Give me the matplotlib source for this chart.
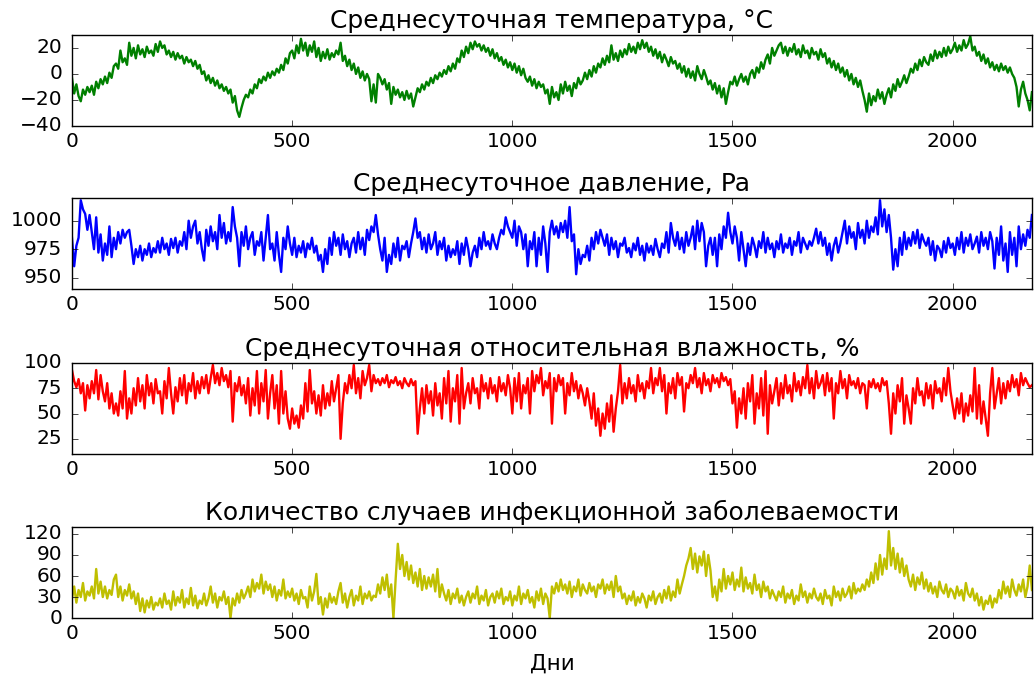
import numpy as np
import matplotlib
matplotlib.use('Agg')
import matplotlib.pyplot as plt

plt.style.use('classic')
matplotlib.rcParams.update({'font.size': 14.5, 'font.family': 'DejaVu Sans',
                            'axes.formatter.useoffset': False,
                            'figure.facecolor': 'white', 'savefig.facecolor': 'white'})

# values read every 5 days off the reference picture
temperature = [
    -3, -15, -8, -17, -21, -12, -16, -10, -14, -9, -16, -6, -11, -4, -8, -2, -7, 1, -3, 6,
    8, 4, 18, 9, 12, 7, 24, 14, 20, 12, 22, 15, 19, 13, 21, 16, 18, 14, 23, 17,
    25, 20, 22, 15, 18, 13, 17, 11, 16, 12, 14, 8, 13, 9, 11, 6, 10, 4, 7, 0,
    2, -5, -1, -7, -3, -9, -5, -11, -8, -13, -10, -15, -12, -22, -17, -28, -33, -26, -20, -16,
    -18, -12, -15, -8, -11, -4, -7, -2, -5, 1, -3, 2, -1, 4, 1, 7, 3, 12, 8, 16,
    18, 12, 22, 16, 27, 18, 24, 14, 22, 17, 25, 13, 20, 10, 17, 12, 19, 11, 16, 13,
    18, 15, 24, 10, 14, 6, 11, 3, 8, 0, 5, -3, 2, -5, 0, -4, -21, -8, -22, 0,
    -3, -8, -4, -12, -7, -23, -10, -16, -12, -18, -14, -20, -13, -19, -15, -25, -18, -11, -14, -8,
    -12, -6, -9, -3, -7, -1, -4, 1, -2, 3, 0, 6, 2, 8, 4, 12, 9, 18, 13, 21,
    16, 24, 19, 25, 21, 23, 18, 22, 17, 20, 14, 19, 12, 16, 10, 13, 7, 11, 5, 9,
    3, 8, 1, 6, -1, 4, -3, -6, -2, -9, -4, -11, -6, -10, -8, -15, -12, -23, -10, -18,
    -14, -20, -8, -15, -6, -13, -9, -17, -7, -11, -3, -8, -5, 1, -4, 3, -2, 6, 1, 8,
    5, 12, 7, 14, 9, 22, 11, 16, 10, 18, 13, 19, 15, 23, 17, 21, 16, 24, 19, 26,
    20, 24, 17, 21, 14, 19, 12, 17, 9, 15, 11, 6, 13, 8, 10, 4, 8, 1, 6, -2,
    4, -3, 2, -5, 6, 0, -4, 3, -2, -8, -5, -12, -7, -15, -9, -18, -11, -23, -14, -6,
    -8, -2, -9, -4, 0, -6, -2, -8, 0, 3, -3, 5, 1, 9, 4, 11, 15, 8, 20, 14,
    18, 22, 24, 16, 21, 14, 20, 17, 23, 15, 19, 13, 22, 16, 18, 12, 20, 15, 17, 11,
    19, 13, 16, 8, 12, 5, 10, 3, 8, 1, 5, -2, 3, -5, 0, -8, -3, -10, -5, -13,
    -20, -29, -15, -24, -17, -21, -12, -19, -14, -23, -16, -11, -18, -8, -13, -4, -10, -6, -1, -7,
    -2, 4, 1, 8, 3, 11, 6, 13, 9, 7, 15, 10, 18, 12, 17, 13, 20, 14, 21, 16,
    19, 24, 17, 22, 18, 26, 20, 23, 29, 18, 21, 14, 17, 10, 15, 8, 12, 5, 9, 3,
    7, 2, 8, 3, 6, 1, 5, 0, -3, -10, -25, -12, -6, -15, -20, -28, -14,
]

pressure = [
    985, 960, 978, 985, 1018, 1010, 1006, 992, 1005, 990, 975, 1003, 972, 988, 965, 980, 970, 995, 968, 985,
    975, 990, 980, 992, 985, 990, 992, 978, 962, 975, 968, 978, 965, 975, 970, 980, 968, 976, 972, 982,
    972, 985, 975, 980, 970, 984, 976, 985, 972, 982, 978, 990, 975, 1000, 985, 995, 1000, 980, 990, 975,
    965, 992, 978, 995, 982, 990, 975, 1005, 985, 998, 980, 990, 982, 1012, 995, 985, 960, 990, 978, 995,
    975, 985, 990, 970, 982, 978, 990, 965, 985, 1005, 975, 980, 965, 990, 970, 955, 985, 975, 995, 980,
    970, 985, 968, 978, 972, 982, 968, 980, 975, 985, 972, 978, 965, 970, 955, 975, 962, 985, 970, 990,
    978, 985, 970, 988, 975, 982, 968, 980, 985, 972, 990, 975, 985, 970, 992, 983, 995, 990, 1005, 988,
    975, 965, 985, 955, 970, 962, 980, 968, 985, 965, 978, 975, 982, 968, 980, 990, 1002, 985, 990, 975,
    985, 972, 988, 975, 980, 990, 970, 982, 975, 985, 965, 978, 968, 975, 970, 982, 962, 980, 970, 985,
    975, 960, 972, 978, 968, 985, 975, 990, 978, 982, 975, 988, 980, 975, 985, 992, 988, 1003, 995, 990,
    985, 1000, 978, 995, 990, 975, 988, 960, 982, 975, 990, 960, 985, 970, 995, 980, 955, 990, 1000, 988,
    995, 985, 998, 990, 1000, 985, 1012, 982, 988, 953, 975, 962, 970, 968, 978, 965, 985, 975, 990, 980,
    992, 985, 978, 988, 970, 985, 975, 982, 968, 980, 978, 985, 972, 976, 968, 980, 974, 985, 970, 978,
    965, 980, 972, 978, 970, 984, 975, 968, 980, 976, 990, 972, 998, 985, 978, 990, 975, 985, 972, 990,
    978, 985, 995, 975, 1000, 982, 998, 990, 960, 978, 985, 970, 985, 960, 988, 975, 995, 985, 1007, 990,
    980, 995, 985, 965, 990, 975, 960, 980, 970, 985, 978, 968, 982, 976, 990, 972, 985, 975, 980, 968,
    982, 975, 988, 972, 980, 976, 985, 970, 982, 978, 990, 972, 985, 980, 975, 982, 978, 985, 993, 980,
    990, 978, 985, 970, 980, 965, 978, 985, 972, 980, 990, 1000, 980, 995, 985, 990, 975, 998, 985, 992,
    980, 1000, 985, 995, 990, 1003, 988, 1018, 995, 1010, 990, 1005, 985, 957, 975, 960, 985, 970, 990, 975,
    985, 978, 990, 980, 992, 976, 988, 982, 978, 985, 970, 982, 965, 978, 975, 968, 982, 972, 985, 976,
    980, 970, 985, 975, 990, 972, 985, 978, 988, 975, 980, 986, 972, 990, 978, 985, 975, 990, 982, 958,
    985, 970, 995, 965, 980, 955, 990, 970, 985, 960, 995, 975, 988, 978, 992, 985, 1005,
]

humidity = [
    93, 82, 76, 84, 70, 80, 53, 78, 65, 82, 70, 93, 64, 88, 72, 62, 80, 55, 70, 50,
    60, 48, 72, 55, 92, 45, 65, 50, 75, 58, 85, 62, 78, 55, 88, 68, 80, 60, 84, 70,
    72, 50, 82, 65, 95, 70, 50, 76, 62, 85, 68, 88, 60, 80, 72, 90, 65, 82, 70, 86,
    75, 88, 70, 85, 98, 80, 90, 78, 95, 82, 88, 76, 92, 42, 80, 72, 86, 68, 78, 60,
    85, 48, 75, 58, 92, 50, 80, 62, 93, 45, 70, 88, 55, 78, 40, 92, 50, 72, 45, 35,
    55, 40, 48, 36, 58, 45, 80, 52, 93, 60, 72, 50, 68, 48, 78, 55, 70, 58, 82, 62,
    75, 88, 25, 60, 80, 70, 88, 75, 98, 70, 85, 65, 92, 78, 85, 98, 72, 88, 80, 84,
    78, 85, 80, 88, 76, 83, 80, 86, 78, 82, 75, 85, 80, 77, 84, 78, 82, 30, 55, 75,
    50, 78, 60, 72, 48, 80, 58, 70, 45, 85, 60, 92, 42, 75, 62, 88, 40, 95, 55, 70,
    80, 60, 85, 70, 75, 55, 88, 72, 80, 65, 85, 70, 78, 62, 86, 72, 80, 68, 88, 75,
    50, 85, 62, 90, 55, 78, 70, 85, 50, 92, 72, 88, 80, 95, 68, 82, 75, 90, 40, 85,
    72, 88, 78, 85, 50, 80, 68, 90, 72, 82, 65, 78, 70, 58, 75, 62, 45, 70, 38, 55,
    28, 50, 35, 60, 42, 68, 32, 55, 72, 98, 60, 80, 65, 85, 70, 78, 62, 88, 72, 80,
    65, 82, 75, 95, 70, 85, 78, 95, 72, 88, 50, 80, 70, 85, 65, 90, 78, 86, 52, 80,
    75, 88, 80, 95, 76, 85, 70, 90, 78, 84, 72, 88, 80, 85, 76, 90, 82, 86, 78, 84,
    60, 72, 36, 65, 50, 75, 45, 80, 62, 88, 40, 70, 55, 85, 48, 92, 30, 78, 60, 72,
    85, 58, 80, 65, 88, 70, 78, 62, 90, 72, 82, 68, 86, 75, 98, 70, 85, 65, 92, 75,
    80, 88, 68, 90, 72, 85, 45, 80, 70, 92, 75, 84, 65, 88, 78, 82, 75, 85, 70, 80,
    78, 55, 82, 76, 84, 75, 80, 72, 85, 78, 82, 60, 30, 70, 50, 78, 62, 85, 40, 68,
    55, 40, 75, 60, 85, 68, 72, 58, 80, 65, 78, 55, 82, 70, 75, 62, 85, 68, 95, 72,
    58, 45, 65, 50, 70, 42, 60, 48, 68, 52, 95, 45, 78, 40, 62, 45, 28, 70, 95, 55,
    70, 85, 60, 80, 65, 82, 72, 88, 76, 84, 68, 90, 78, 85, 80, 76, 78,
]

cases = [
    28, 45, 22, 40, 30, 50, 25, 38, 32, 45, 28, 70, 35, 52, 30, 45, 28, 40, 33, 55,
    62, 30, 45, 25, 40, 32, 48, 28, 38, 20, 35, 10, 28, 8, 25, 15, 30, 12, 22, 18,
    28, 15, 35, 20, 25, 12, 38, 18, 30, 22, 40, 15, 28, 20, 43, 18, 32, 14, 25, 20,
    35, 18, 28, 45, 22, 35, 15, 30, 25, 38, 20, 30, 0, 28, 18, 35, 22, 40, 28, 35,
    45, 30, 55, 38, 50, 42, 62, 35, 52, 40, 48, 30, 45, 25, 40, 32, 55, 28, 38, 30,
    42, 25, 35, 20, 40, 28, 30, 15, 45, 25, 38, 63, 20, 30, 5, 28, 15, 35, 22, 30,
    20, 38, 50, 22, 35, 15, 30, 40, 18, 32, 25, 45, 20, 35, 28, 38, 25, 32, 30, 48,
    35, 58, 40, 62, 30, 48, 0, 55, 106, 70, 90, 60, 80, 55, 75, 50, 65, 45, 70, 40,
    60, 42, 58, 45, 62, 38, 70, 30, 48, 35, 25, 40, 20, 35, 28, 42, 22, 32, 18, 30,
    38, 22, 35, 28, 45, 20, 32, 25, 40, 18, 30, 35, 22, 38, 28, 42, 20, 30, 25, 38,
    18, 32, 25, 45, 20, 35, 28, 40, 22, 30, 15, 38, 25, 42, 20, 35, 28, 0, 45, 35,
    50, 38, 55, 40, 48, 35, 52, 30, 45, 38, 55, 32, 48, 40, 35, 50, 38, 45, 30, 48,
    42, 55, 35, 48, 40, 52, 30, 60, 38, 45, 28, 35, 20, 32, 25, 38, 18, 30, 22, 35,
    28, 15, 32, 25, 38, 20, 30, 35, 22, 40, 28, 45, 25, 38, 30, 55, 35, 48, 60, 75,
    85, 100, 70, 92, 65, 88, 75, 95, 60, 90, 68, 30, 45, 25, 55, 38, 70, 42, 60, 48,
    65, 40, 55, 45, 72, 38, 58, 42, 50, 35, 62, 40, 48, 30, 52, 38, 45, 28, 40, 32,
    25, 38, 30, 45, 22, 35, 28, 40, 20, 32, 25, 48, 30, 38, 22, 35, 28, 42, 30, 25,
    35, 20, 40, 28, 32, 18, 45, 30, 38, 25, 42, 30, 35, 45, 28, 50, 35, 42, 38, 48,
    40, 55, 45, 65, 50, 78, 55, 90, 62, 85, 70, 124, 75, 100, 70, 92, 65, 85, 60, 75,
    55, 45, 62, 40, 58, 48, 65, 42, 55, 38, 50, 35, 45, 30, 52, 40, 35, 48, 30, 42,
    38, 28, 45, 32, 40, 25, 50, 35, 30, 42, 25, 35, 18, 30, 12, 25, 20, 32, 15, 28,
    22, 40, 28, 52, 35, 45, 30, 55, 40, 32, 48, 38, 55, 30, 45, 75, 40,
]

titles = ['Среднесуточная температура, °C',
          'Среднесуточное давление, Pa',
          'Среднесуточная относительная влажность, %',
          'Количество случаев инфекционной заболеваемости']
colors = ['g', 'b', 'r', 'y']
ylims = [(-40, 30), (940, 1020), (10, 100), (0, 130)]
yticks = [[-40, -20, 0, 20], [950, 975, 1000], [25, 50, 75, 100], [0, 30, 60, 90, 120]]
bottoms = [0.8139, 0.5731, 0.3294, 0.0871]

days = np.arange(len(temperature)) * 5
series = [temperature, pressure, humidity, cases]

fig = plt.figure(figsize=(10.34, 6.77), dpi=100)
for k, values in enumerate(series):
    ax = fig.add_axes([0.0696, bottoms[k], 0.9284, 0.1345])
    ax.plot(days, values, color=colors[k], lw=1.7)
    ax.set_xlim(0, days[-1])
    ax.set_ylim(*ylims[k])
    ax.set_yticks(yticks[k])
    ax.set_xticks([0, 500, 1000, 1500, 2000])
    ax.set_title(titles[k], fontsize=18, pad=5)
    ax.tick_params(axis='x', pad=4)
    ax.tick_params(axis='y', pad=7)
ax.set_xlabel('Дни', fontsize=15.5, labelpad=8)

fig.savefig('out.png', dpi=100)
